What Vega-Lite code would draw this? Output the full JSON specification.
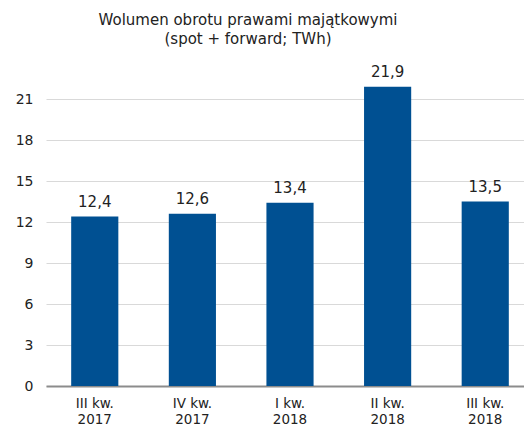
{
  "$schema": "https://vega.github.io/schema/vega-lite/v6.json",
  "autosize": "none",
  "width": 488,
  "height": 328,
  "padding": {"left": 46, "top": 58, "right": 0, "bottom": 42},
  "background": "white",
  "config": {
    "locale": {"number": {"decimal": ",", "thousands": " ", "grouping": [3], "currency": ["", " zł"]}},
    "view": {"stroke": null},
    "font": "DejaVu Sans"
  },
  "title": {
    "text": ["Wolumen obrotu prawami majątkowymi", "(spot + forward; TWh)"],
    "font": "DejaVu Sans",
    "fontSize": 15,
    "fontWeight": "normal",
    "color": "#222222",
    "lineHeight": 19,
    "anchor": "middle",
    "frame": "group",
    "dx": -42,
    "offset": 11
  },
  "data": {
    "values": [
      {"kw": "III kw.|2017", "v": 12.4},
      {"kw": "IV kw.|2017", "v": 12.6},
      {"kw": "I kw.|2018", "v": 13.4},
      {"kw": "II kw.|2018", "v": 21.9},
      {"kw": "III kw.|2018", "v": 13.5}
    ]
  },
  "encoding": {
    "x": {
      "field": "kw",
      "type": "nominal",
      "sort": null,
      "scale": {"paddingInner": 0.517, "paddingOuter": 0.258},
      "axis": {
        "title": null,
        "labelAngle": 0,
        "labelExpr": "split(datum.label, '|')",
        "labelFont": "DejaVu Sans",
        "labelFontSize": 13.5,
        "labelColor": "#222222",
        "labelLineHeight": 16,
        "labelPadding": 17,
        "labelBaseline": "middle",
        "ticks": false,
        "domainColor": "#8c8c8c",
        "domainWidth": 2
      }
    },
    "y": {
      "field": "v",
      "type": "quantitative",
      "scale": {"domain": [0, 24], "nice": false},
      "axis": {
        "title": null,
        "values": [0, 3, 6, 9, 12, 15, 18, 21],
        "format": "d",
        "labelFont": "DejaVu Sans",
        "labelFontSize": 14,
        "labelColor": "#222222",
        "labelPadding": 13,
        "ticks": false,
        "domain": false,
        "gridColor": "#d9d9d9",
        "gridWidth": 1
      }
    }
  },
  "layer": [
    {"mark": {"type": "bar", "color": "#005092"}},
    {
      "mark": {"type": "text", "dy": -15, "fontSize": 15, "color": "#222222", "font": "DejaVu Sans"},
      "encoding": {"text": {"field": "v", "type": "quantitative", "format": ".1f"}}
    }
  ]
}
